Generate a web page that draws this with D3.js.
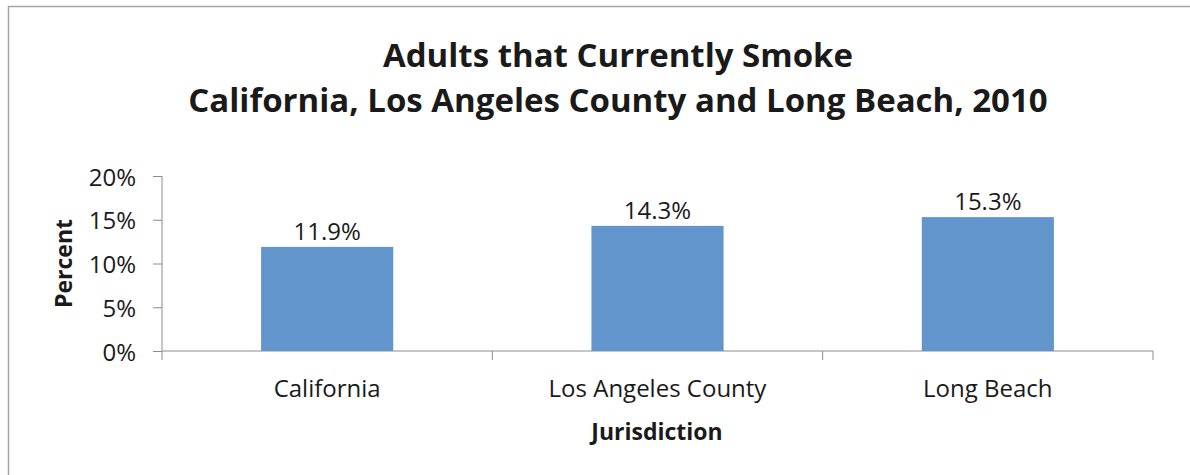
<!DOCTYPE html>
<html>
<head>
<meta charset="utf-8">
<script src="https://cdn.jsdelivr.net/npm/d3@7"></script>
<style>
  body { margin: 0; background: #fff; }
  text { font-family: "Open Sans", sans-serif; fill: #1a1a1a; }
</style>
</head>
<body>
<div id="chart"></div>
<script>
var categories = ['California', 'Los Angeles County', 'Long Beach'];
var values = [11.9, 14.3, 15.3];
var yTicks = [0, 5, 10, 15, 20];
var titleLines = ['Adults that Currently Smoke', 'California, Los Angeles County and Long Beach, 2010'];

var width = 1190,
    height = 475;

var svg = d3.select('#chart')
    .append('svg')
    .attr('width', width)
    .attr('height', height);

// outer chart frame
svg.append('rect')
    .attr('x', 8.5)
    .attr('y', 6.5)
    .attr('width', width + 20)
    .attr('height', height + 20)
    .attr('fill', 'none')
    .attr('stroke', '#a6a6a6')
    .attr('stroke-width', 1.5);

var margin = { left: 162, right: 1153, top: 176, bottom: 351 };

var x = d3.scaleBand()
    .domain(categories)
    .range([margin.left, margin.right])
    .paddingInner(0.6)
    .paddingOuter(0.3);

var y = d3.scaleLinear()
    .domain([0, 20])
    .range([margin.bottom, margin.top]);

// title
svg.selectAll('.title')
    .data(titleLines)
    .enter()
    .append('text')
    .attr('class', 'title')
    .attr('x', 618)
    .attr('y', function (d, i) { return 67 + i * 45; })
    .attr('text-anchor', 'middle')
    .style('font-size', '33px')
    .style('font-weight', 'bold')
    .text(function (d) { return d; });

// y axis
var yAxis = svg.append('g')
    .attr('transform', 'translate(' + margin.left + ',0)')
    .call(d3.axisLeft(y)
        .tickValues(yTicks)
        .tickSize(9)
        .tickPadding(17)
        .tickFormat(function (d) { return d + '%'; }));

yAxis.select('.domain').attr('stroke', '#8c8c8c').attr('d', 'M0,' + margin.top + 'V' + margin.bottom);
yAxis.selectAll('.tick line').attr('stroke', '#8c8c8c');
yAxis.selectAll('.tick text')
    .style('font-size', '24px')
    .attr('dy', '0.38em')
    .attr('fill', '#1a1a1a');

// x axis
var bounds = categories.map(function (c) { return x(c) - x.step() * 0.3; }).concat([margin.right]);

var xAxis = svg.append('g')
    .attr('transform', 'translate(0,' + margin.bottom + ')');

xAxis.append('line')
    .attr('x1', margin.left)
    .attr('x2', margin.right)
    .attr('stroke', '#8c8c8c');

xAxis.selectAll('.cat-tick')
    .data(bounds)
    .enter()
    .append('line')
    .attr('class', 'cat-tick')
    .attr('x1', function (d) { return d; })
    .attr('x2', function (d) { return d; })
    .attr('y1', 0)
    .attr('y2', 9)
    .attr('stroke', '#8c8c8c');

xAxis.selectAll('.cat-label')
    .data(categories)
    .enter()
    .append('text')
    .attr('class', 'cat-label')
    .attr('x', function (d) { return x(d) + x.bandwidth() / 2; })
    .attr('y', 46)
    .attr('text-anchor', 'middle')
    .style('font-size', '24px')
    .text(function (d) { return d; });

// bars
svg.selectAll('.bar')
    .data(values)
    .enter()
    .append('rect')
    .attr('class', 'bar')
    .attr('x', function (d, i) { return x(categories[i]); })
    .attr('width', x.bandwidth())
    .attr('y', function (d) { return y(d); })
    .attr('height', function (d) { return y(0) - y(d); })
    .attr('fill', '#6195cc');

svg.selectAll('.bar-label')
    .data(values)
    .enter()
    .append('text')
    .attr('class', 'bar-label')
    .attr('x', function (d, i) { return x(categories[i]) + x.bandwidth() / 2; })
    .attr('y', function (d) { return y(d) - 7; })
    .attr('text-anchor', 'middle')
    .style('font-size', '24px')
    .text(function (d) { return d.toFixed(1) + '%'; });

// axis titles
svg.append('text')
    .attr('transform', 'translate(72,' + (margin.top + margin.bottom) / 2 + ') rotate(-90)')
    .attr('text-anchor', 'middle')
    .style('font-size', '23px')
    .style('font-weight', 'bold')
    .text('Percent');

svg.append('text')
    .attr('x', 657)
    .attr('y', 440)
    .attr('text-anchor', 'middle')
    .style('font-size', '23px')
    .style('font-weight', 'bold')
    .text('Jurisdiction');
</script>
</body>
</html>
